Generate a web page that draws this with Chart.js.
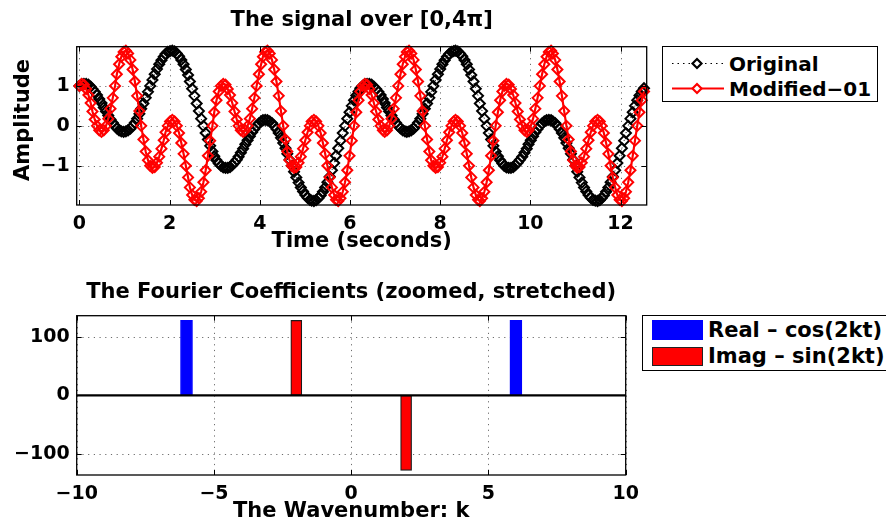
<!DOCTYPE html>
<html>
<head>
<meta charset="utf-8">
<script src="https://cdn.jsdelivr.net/npm/chart.js@4/dist/chart.umd.min.js"></script>
<style>
html,body{margin:0;padding:0;background:#fff;}
body{width:886px;height:524px;position:relative;overflow:hidden;font-family:'DejaVu Sans',sans-serif;font-weight:bold;color:#000;}
canvas{position:absolute;left:0;}
#c1{top:0;}
#c2{top:262px;}
.legend{position:absolute;border:1.5px solid #000;background:#fff;box-sizing:border-box;}
.lg{position:absolute;white-space:nowrap;font-size:20px;line-height:24px;font-weight:bold;}
.sw{position:absolute;box-sizing:border-box;}
</style>
</head>
<body>
<canvas id="c1" width="886" height="262"></canvas>
<canvas id="c2" width="886" height="262"></canvas>

<div class="legend" style="left:662px;top:46px;width:216px;height:56px;">
  <svg width="64" height="54" style="position:absolute;left:0;top:0;">
    <line x1="9" y1="16.5" x2="61" y2="16.5" stroke="#000" stroke-width="1.2" stroke-dasharray="1.5,4"/>
    <polygon points="29.5,16.5 34,12 38.5,16.5 34,21" fill="#fff" stroke="#000" stroke-width="2.2"/>
    <line x1="9" y1="41.5" x2="61" y2="41.5" stroke="#f00" stroke-width="2.2"/>
    <polygon points="29.5,41.5 34,37 38.5,41.5 34,46" fill="#fff" stroke="#f00" stroke-width="2.2"/>
  </svg>
  <div class="lg" style="left:66px;top:4.5px;">Original</div>
  <div class="lg" style="left:66px;top:29.5px;">Modified−01</div>
</div>

<div class="legend" style="left:642px;top:315px;width:262px;height:56px;">
  <div class="sw" style="left:9px;top:4px;width:51px;height:20px;background:#00f;"></div>
  <div class="sw" style="left:9px;top:30.5px;width:51px;height:19px;background:#f00;border:1px solid #222;"></div>
  <div class="lg" style="left:65px;top:2px;font-size:21px;">Real – cos(2kt)</div>
  <div class="lg" style="left:65px;top:28px;font-size:21px;">Imag – sin(2kt)</div>
</div>

<script>
// ---------------- Data: top panel (256 samples over [0, 4*pi)) ----------------
const timeSeconds = [
  0.00,0.05,0.10,0.15,0.20,0.25,0.29,0.34,0.39,0.44,
  0.49,0.54,0.59,0.64,0.69,0.74,0.79,0.83,0.88,0.93,
  0.98,1.03,1.08,1.13,1.18,1.23,1.28,1.33,1.37,1.42,
  1.47,1.52,1.57,1.62,1.67,1.72,1.77,1.82,1.87,1.91,
  1.96,2.01,2.06,2.11,2.16,2.21,2.26,2.31,2.36,2.41,
  2.45,2.50,2.55,2.60,2.65,2.70,2.75,2.80,2.85,2.90,
  2.95,2.99,3.04,3.09,3.14,3.19,3.24,3.29,3.34,3.39,
  3.44,3.49,3.53,3.58,3.63,3.68,3.73,3.78,3.83,3.88,
  3.93,3.98,4.03,4.07,4.12,4.17,4.22,4.27,4.32,4.37,
  4.42,4.47,4.52,4.57,4.61,4.66,4.71,4.76,4.81,4.86,
  4.91,4.96,5.01,5.06,5.11,5.15,5.20,5.25,5.30,5.35,
  5.40,5.45,5.50,5.55,5.60,5.65,5.69,5.74,5.79,5.84,
  5.89,5.94,5.99,6.04,6.09,6.14,6.19,6.23,6.28,6.33,
  6.38,6.43,6.48,6.53,6.58,6.63,6.68,6.73,6.77,6.82,
  6.87,6.92,6.97,7.02,7.07,7.12,7.17,7.22,7.26,7.31,
  7.36,7.41,7.46,7.51,7.56,7.61,7.66,7.71,7.76,7.80,
  7.85,7.90,7.95,8.00,8.05,8.10,8.15,8.20,8.25,8.30,
  8.34,8.39,8.44,8.49,8.54,8.59,8.64,8.69,8.74,8.79,
  8.84,8.88,8.93,8.98,9.03,9.08,9.13,9.18,9.23,9.28,
  9.33,9.38,9.42,9.47,9.52,9.57,9.62,9.67,9.72,9.77,
  9.82,9.87,9.92,9.96,10.01,10.06,10.11,10.16,10.21,10.26,
  10.31,10.36,10.41,10.46,10.50,10.55,10.60,10.65,10.70,10.75,
  10.80,10.85,10.90,10.95,11.00,11.04,11.09,11.14,11.19,11.24,
  11.29,11.34,11.39,11.44,11.49,11.54,11.58,11.63,11.68,11.73,
  11.78,11.83,11.88,11.93,11.98,12.03,12.08,12.12,12.17,12.22,
  12.27,12.32,12.37,12.42,12.47,12.52
];

const originalSignal = [
  1.00,1.04,1.05,1.05,1.03,0.98,0.92,0.85,0.77,0.67,
  0.57,0.46,0.36,0.26,0.16,0.08,0.00,-0.06,-0.11,-0.14,
  -0.15,-0.14,-0.11,-0.07,0.00,0.08,0.18,0.30,0.43,0.56,
  0.70,0.85,1.00,1.15,1.29,1.42,1.54,1.64,1.73,1.80,
  1.85,1.87,1.88,1.86,1.81,1.74,1.65,1.54,1.41,1.27,
  1.11,0.93,0.75,0.56,0.37,0.18,0.00,-0.18,-0.34,-0.50,
  -0.64,-0.76,-0.86,-0.94,
  -1.00,-1.04,-1.05,-1.05,-1.03,-0.98,-0.92,-0.85,-0.77,-0.67,
  -0.57,-0.46,-0.36,-0.26,-0.16,-0.08,0.00,0.06,0.11,0.14,
  0.15,0.14,0.11,0.07,0.00,-0.08,-0.18,-0.30,-0.43,-0.56,
  -0.70,-0.85,-1.00,-1.15,-1.29,-1.42,-1.54,-1.64,-1.73,-1.80,
  -1.85,-1.87,-1.88,-1.86,-1.81,-1.74,-1.65,-1.54,-1.41,-1.27,
  -1.11,-0.93,-0.75,-0.56,-0.37,-0.18,0.00,0.18,0.34,0.50,
  0.64,0.76,0.86,0.94,
  1.00,1.04,1.05,1.05,1.03,0.98,0.92,0.85,0.77,0.67,
  0.57,0.46,0.36,0.26,0.16,0.08,0.00,-0.06,-0.11,-0.14,
  -0.15,-0.14,-0.11,-0.07,0.00,0.08,0.18,0.30,0.43,0.56,
  0.70,0.85,1.00,1.15,1.29,1.42,1.54,1.64,1.73,1.80,
  1.85,1.87,1.88,1.86,1.81,1.74,1.65,1.54,1.41,1.27,
  1.11,0.93,0.75,0.56,0.37,0.18,0.00,-0.18,-0.34,-0.50,
  -0.64,-0.76,-0.86,-0.94,
  -1.00,-1.04,-1.05,-1.05,-1.03,-0.98,-0.92,-0.85,-0.77,-0.67,
  -0.57,-0.46,-0.36,-0.26,-0.16,-0.08,0.00,0.06,0.11,0.14,
  0.15,0.14,0.11,0.07,0.00,-0.08,-0.18,-0.30,-0.43,-0.56,
  -0.70,-0.85,-1.00,-1.15,-1.29,-1.42,-1.54,-1.64,-1.73,-1.80,
  -1.85,-1.87,-1.88,-1.86,-1.81,-1.74,-1.65,-1.54,-1.41,-1.27,
  -1.11,-0.93,-0.75,-0.56,-0.37,-0.18,0.00,0.18,0.34,0.50,
  0.64,0.76,0.86,0.94
];

const modifiedSignal = [
  1.00,1.05,1.03,0.92,0.77,0.57,0.36,0.16,0.00,-0.11,
  -0.15,-0.11,0.00,0.18,0.43,0.70,1.00,1.29,1.54,1.73,
  1.85,1.88,1.81,1.65,1.41,1.11,0.75,0.37,0.00,-0.34,
  -0.64,-0.86,
  -1.00,-1.05,-1.03,-0.92,-0.77,-0.57,-0.36,-0.16,0.00,0.11,
  0.15,0.11,0.00,-0.18,-0.43,-0.70,-1.00,-1.29,-1.54,-1.73,
  -1.85,-1.88,-1.81,-1.65,-1.41,-1.11,-0.75,-0.37,0.00,0.34,
  0.64,0.86,
  1.00,1.05,1.03,0.92,0.77,0.57,0.36,0.16,0.00,-0.11,
  -0.15,-0.11,0.00,0.18,0.43,0.70,1.00,1.29,1.54,1.73,
  1.85,1.88,1.81,1.65,1.41,1.11,0.75,0.37,0.00,-0.34,
  -0.64,-0.86,
  -1.00,-1.05,-1.03,-0.92,-0.77,-0.57,-0.36,-0.16,0.00,0.11,
  0.15,0.11,0.00,-0.18,-0.43,-0.70,-1.00,-1.29,-1.54,-1.73,
  -1.85,-1.88,-1.81,-1.65,-1.41,-1.11,-0.75,-0.37,0.00,0.34,
  0.64,0.86,
  1.00,1.05,1.03,0.92,0.77,0.57,0.36,0.16,0.00,-0.11,
  -0.15,-0.11,0.00,0.18,0.43,0.70,1.00,1.29,1.54,1.73,
  1.85,1.88,1.81,1.65,1.41,1.11,0.75,0.37,0.00,-0.34,
  -0.64,-0.86,
  -1.00,-1.05,-1.03,-0.92,-0.77,-0.57,-0.36,-0.16,0.00,0.11,
  0.15,0.11,0.00,-0.18,-0.43,-0.70,-1.00,-1.29,-1.54,-1.73,
  -1.85,-1.88,-1.81,-1.65,-1.41,-1.11,-0.75,-0.37,0.00,0.34,
  0.64,0.86,
  1.00,1.05,1.03,0.92,0.77,0.57,0.36,0.16,0.00,-0.11,
  -0.15,-0.11,0.00,0.18,0.43,0.70,1.00,1.29,1.54,1.73,
  1.85,1.88,1.81,1.65,1.41,1.11,0.75,0.37,0.00,-0.34,
  -0.64,-0.86,
  -1.00,-1.05,-1.03,-0.92,-0.77,-0.57,-0.36,-0.16,0.00,0.11,
  0.15,0.11,0.00,-0.18,-0.43,-0.70,-1.00,-1.29,-1.54,-1.73,
  -1.85,-1.88,-1.81,-1.65,-1.41,-1.11,-0.75,-0.37,0.00,0.34,
  0.64,0.86
];

// ---------------- Data: bottom panel (Fourier coefficients) ----------------
const wavenumbers = [-10,-9,-8,-7,-6,-5,-4,-3,-2,-1,0,1,2,3,4,5,6,7,8,9,10];
const realCoeffs  = [0,0,0,0,128,0,0,0,0,0,0,0,0,0,0,0,128,0,0,0,0];
const imagCoeffs  = [0,0,0,0,0,0,0,0,128,0,0,0,-128,0,0,0,0,0,0,0,0];

// tick values
const topXTicks = [0,2,4,6,8,10,12];
const topYTicks = [-1,0,1];
const botXTicks = [-10,-5,0,5,10];
const botYTicks = [-100,0,100];

// ---------------- helpers ----------------
const FONT = "'DejaVu Sans', sans-serif";
Chart.defaults.font.family = FONT;
Chart.defaults.font.weight = 'bold';
Chart.defaults.color = '#000';

const fmt = v => String(v).replace('-', '\u2212');

const matlabAxes = {
  id: 'matlabAxes',
  beforeDatasetsDraw(chart) {
    const {ctx, chartArea: a, scales: {x, y}} = chart;
    ctx.save();
    ctx.strokeStyle = 'rgba(60,60,60,0.75)';
    ctx.lineWidth = 1;
    ctx.setLineDash([1.2, 4.5]);
    x.ticks.forEach(t => {
      const px = Math.round(x.getPixelForValue(t.value)) + 0.5;
      ctx.beginPath(); ctx.moveTo(px, a.top); ctx.lineTo(px, a.bottom); ctx.stroke();
    });
    y.ticks.forEach(t => {
      const py = Math.round(y.getPixelForValue(t.value)) + 0.5;
      ctx.beginPath(); ctx.moveTo(a.left, py); ctx.lineTo(a.right, py); ctx.stroke();
    });
    ctx.restore();
  },
  afterDatasetsDraw(chart, args, opts) {
    const {ctx, chartArea: a, scales: {x, y}} = chart;
    ctx.save();
    if (opts.baseline) {
      const py = y.getPixelForValue(0);
      ctx.strokeStyle = '#000'; ctx.lineWidth = 2.2;
      ctx.beginPath(); ctx.moveTo(a.left, py); ctx.lineTo(a.right, py); ctx.stroke();
    }
    ctx.strokeStyle = '#000';
    ctx.lineWidth = 1.3;
    ctx.strokeRect(a.left, a.top, a.right - a.left, a.bottom - a.top);
    const tl = 5;
    ctx.lineWidth = 1;
    x.ticks.forEach(t => {
      const px = Math.round(x.getPixelForValue(t.value)) + 0.5;
      ctx.beginPath();
      ctx.moveTo(px, a.bottom); ctx.lineTo(px, a.bottom - tl);
      ctx.moveTo(px, a.top); ctx.lineTo(px, a.top + tl);
      ctx.stroke();
    });
    y.ticks.forEach(t => {
      const py = Math.round(y.getPixelForValue(t.value)) + 0.5;
      ctx.beginPath();
      ctx.moveTo(a.left, py); ctx.lineTo(a.left + tl, py);
      ctx.moveTo(a.right, py); ctx.lineTo(a.right - tl, py);
      ctx.stroke();
    });
    // titles (centred over the plot box, like MATLAB)
    ctx.fillStyle = '#000';
    ctx.textAlign = 'center';
    ctx.textBaseline = 'middle';
    ctx.font = 'bold 21px ' + FONT;
    if (opts.title) ctx.fillText(opts.title, (a.left + a.right) / 2, opts.titleY);
    if (opts.yTitle) {
      ctx.translate(opts.yTitleX, opts.yTitleY);
      ctx.rotate(-Math.PI / 2);
      ctx.fillText(opts.yTitle, 0, 0);
    }
    ctx.restore();
  }
};

function axisCommon(extra) {
  return Object.assign({
    grid: {display: false, drawTicks: false},
    border: {display: false},
  }, extra);
}

// ---------------- Top chart ----------------
new Chart(document.getElementById('c1'), {
  type: 'line',
  data: {
    datasets: [
      {
        label: 'Modified-01',
        data: timeSeconds.map((t, i) => ({x: t, y: modifiedSignal[i]})),
        borderColor: '#ff0000', borderWidth: 2.2,
        pointStyle: 'rectRot', pointRadius: 5, pointBorderWidth: 2,
        pointBorderColor: '#ff0000', pointBackgroundColor: 'rgba(255,255,255,0)',
        tension: 0, order: 0, clip: false
      },
      {
        label: 'Original',
        data: timeSeconds.map((t, i) => ({x: t, y: originalSignal[i]})),
        borderColor: '#000000', borderWidth: 1, borderDash: [1, 3],
        pointStyle: 'rectRot', pointRadius: 5, pointBorderWidth: 2,
        pointBorderColor: '#000000', pointBackgroundColor: 'rgba(255,255,255,0)',
        tension: 0, order: 1, clip: false
      }
    ]
  },
  options: {
    responsive: false, animation: false, events: [],
    layout: {padding: {left: 0, right: 239.3, top: 46.7, bottom: 0}},
    plugins: {
      legend: {display: false}, tooltip: {enabled: false}, title: {display: false},
      matlabAxes: {baseline: false, title: 'The signal over [0,4π]', titleY: 21,
                   yTitle: 'Amplitude', yTitleX: 24, yTitleY: 120}
    },
    scales: {
      x: axisCommon({
        type: 'linear', min: -0.06, max: 12.58,
        afterBuildTicks: s => { s.ticks = topXTicks.map(v => ({value: v})); },
        ticks: {autoSkip: false, maxRotation: 0, padding: 8, color: '#000',
                font: {size: 19, weight: 'bold'}, callback: fmt},
        title: {display: true, text: 'Time (seconds)', color: '#000',
                font: {size: 21, weight: 'bold'}, padding: {top: 0, bottom: 8}},
        afterFit: s => { s.height = 57; }
      }),
      y: axisCommon({
        type: 'linear', min: -1.98, max: 1.98,
        afterBuildTicks: s => { s.ticks = topYTicks.map(v => ({value: v})); },
        ticks: {padding: 7, color: '#000', font: {size: 19, weight: 'bold'}, callback: fmt},
        afterFit: s => { s.width = 76.7; }
      })
    }
  },
  plugins: [matlabAxes]
});

// ---------------- Bottom chart ----------------
new Chart(document.getElementById('c2'), {
  type: 'bar',
  data: {
    datasets: [
      {
        label: 'Real - cos(2kt)',
        data: wavenumbers.map((k, i) => ({x: k, y: realCoeffs[i]})),
        backgroundColor: '#0000ff', borderColor: '#0000ff', borderWidth: 1,
        barThickness: 12, grouped: false, borderSkipped: false
      },
      {
        label: 'Imag - sin(2kt)',
        data: wavenumbers.map((k, i) => ({x: k, y: imagCoeffs[i]})),
        backgroundColor: '#ff0000', borderColor: '#1a1a1a', borderWidth: 1.2,
        barThickness: 11, grouped: false, borderSkipped: false
      }
    ]
  },
  options: {
    responsive: false, animation: false, events: [],
    layout: {padding: {left: 0, right: 260.3, top: 53.7, bottom: 0}},
    plugins: {
      legend: {display: false}, tooltip: {enabled: false}, title: {display: false},
      matlabAxes: {baseline: true, title: 'The Fourier Coefficients (zoomed, stretched)', titleY: 31}
    },
    scales: {
      x: axisCommon({
        type: 'linear', min: -10, max: 10, offset: false,
        afterBuildTicks: s => { s.ticks = botXTicks.map(v => ({value: v})); },
        ticks: {autoSkip: false, maxRotation: 0, padding: 8, color: '#000',
                font: {size: 19, weight: 'bold'}, callback: fmt},
        title: {display: true, text: 'The Wavenumber: k', color: '#000',
                font: {size: 21, weight: 'bold'}, padding: {top: 0, bottom: 0}},
        afterFit: s => { s.height = 49; }
      }),
      y: axisCommon({
        type: 'linear', min: -136, max: 136,
        afterBuildTicks: s => { s.ticks = botYTicks.map(v => ({value: v})); },
        ticks: {padding: 7, color: '#000', font: {size: 19, weight: 'bold'}, callback: fmt},
        afterFit: s => { s.width = 76.7; }
      })
    }
  },
  plugins: [matlabAxes]
});
</script>
</body>
</html>
